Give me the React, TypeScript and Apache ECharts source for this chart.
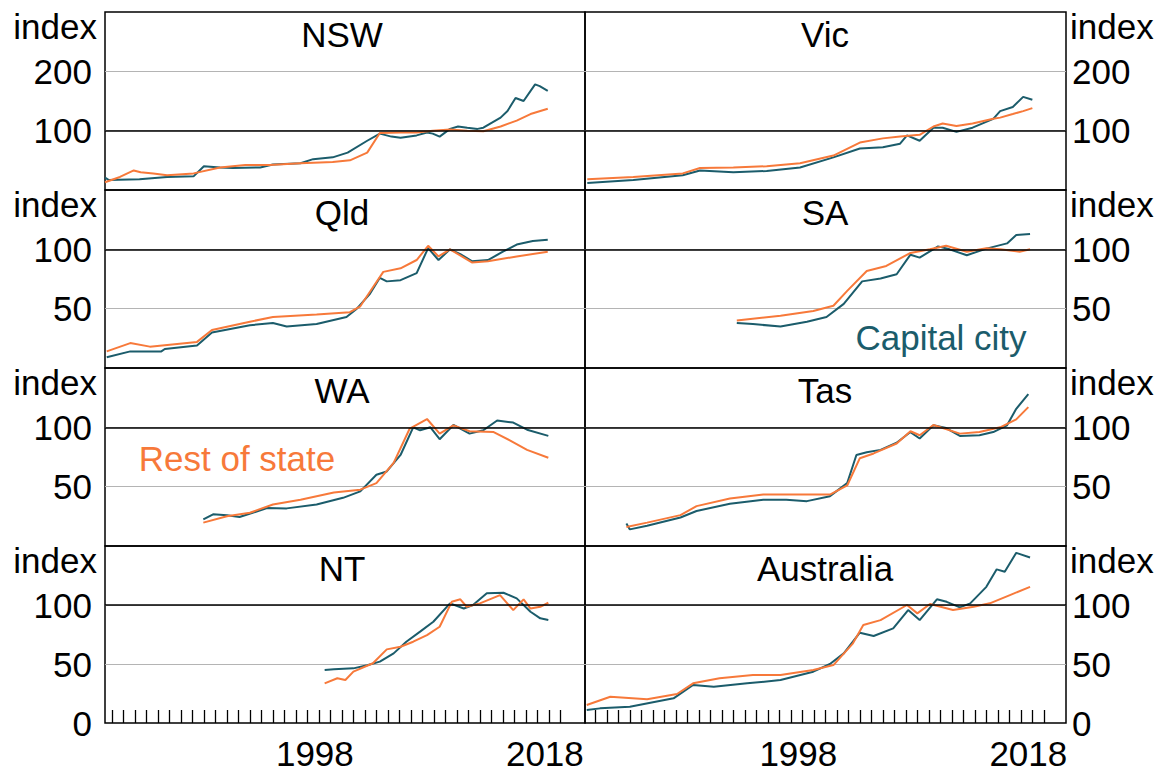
import React, { useEffect, useRef } from 'react';
import * as echarts from 'echarts';

const TEAL = '#1b5c6b';
const ORANGE = '#f7793a';
const FONT = '"Liberation Sans", Arial, sans-serif';
const FS = 35;

// [year, index] pairs
const nswCapital = [[1980.4, 21], [1980.7, 17], [1983.4, 18], [1985.8, 22], [1988.1, 23], [1989.0, 40], [1990.4, 38], [1991.5, 37], [1993.9, 38], [1995.0, 43], [1997.4, 45], [1998.5, 52], [2000.2, 55], [2001.5, 63], [2003.2, 83], [2004.3, 95], [2005.3, 90], [2006.1, 88], [2007.5, 92], [2008.4, 97], [2008.9, 95], [2009.5, 90], [2010.4, 103], [2011.1, 107], [2011.9, 105], [2012.8, 103], [2013.3, 105], [2013.9, 112], [2014.8, 122], [2015.4, 133], [2016.1, 155], [2016.8, 150], [2017.8, 178], [2018.2, 175], [2018.9, 167]];
const nswRest = [[1980.4, 13], [1981.7, 22], [1982.9, 33], [1983.5, 30], [1984.6, 28], [1985.8, 25], [1988.1, 28], [1990.4, 38], [1992.6, 42], [1994.7, 42], [1997.4, 45], [2000.2, 47], [2001.7, 50], [2003.2, 63], [2004.3, 96], [2006.1, 97], [2007.5, 97], [2008.9, 100], [2010.4, 102], [2011.9, 100], [2013.3, 99], [2014.8, 107], [2016.2, 117], [2017.4, 128], [2018.9, 137]];

const vicCapital = [[1980.3, 12], [1984.3, 17], [1988.6, 25], [1990.1, 33], [1993.0, 30], [1995.9, 32], [1998.8, 38], [2001.7, 55], [2004.0, 70], [2006.0, 72], [2007.5, 78], [2008.1, 92], [2009.2, 83], [2010.4, 105], [2011.2, 105], [2012.4, 98], [2013.8, 105], [2015.6, 120], [2016.2, 133], [2017.3, 140], [2018.2, 157], [2019.0, 152]];
const vicRest = [[1980.3, 18], [1984.3, 22], [1988.6, 28], [1990.1, 37], [1993.0, 38], [1995.9, 40], [1998.8, 45], [2001.7, 58], [2004.0, 80], [2006.0, 87], [2007.5, 90], [2009.2, 93], [2010.4, 107], [2011.2, 112], [2012.4, 108], [2013.8, 112], [2015.6, 120], [2016.2, 122], [2017.3, 128], [2018.2, 133], [2019.0, 138]];

const qldCapital = [[1980.55, 9], [1982.6, 14], [1985.3, 14], [1985.6, 16], [1988.4, 19], [1989.7, 30], [1993.0, 36], [1995.0, 38], [1996.2, 35], [1998.8, 37], [2001.4, 43], [2002.3, 50], [2003.4, 62], [2004.3, 76], [2004.9, 73], [2006.1, 74], [2007.5, 80], [2008.5, 101], [2009.4, 91], [2010.4, 100], [2011.3, 96], [2012.3, 90], [2013.7, 91], [2015.0, 98], [2016.2, 104], [2017.6, 107], [2018.9, 108]];
const qldRest = [[1980.55, 14], [1982.6, 21], [1984.3, 18], [1988.4, 22], [1989.7, 32], [1993.0, 39], [1995.0, 43], [1998.8, 45], [2001.7, 47], [2002.6, 52], [2003.7, 68], [2004.6, 81], [2006.1, 84], [2007.5, 91], [2008.5, 103], [2009.4, 94], [2010.4, 100], [2012.3, 89], [2013.7, 90], [2016.2, 94], [2018.9, 98]];

const saCapital = [[1993.3, 38], [1994.7, 37], [1997.1, 35], [1999.4, 39], [2001.1, 43], [2002.6, 54], [2004.2, 73], [2005.8, 75.5], [2007.2, 79], [2008.4, 95.5], [2009.2, 93], [2010.8, 102.5], [2011.8, 100], [2013.3, 95], [2015.0, 100.6], [2016.8, 105], [2017.6, 112], [2018.8, 113]];
const saRest = [[1993.3, 40], [1997.1, 44], [1999.95, 48], [2001.7, 52.5], [2002.9, 65], [2004.6, 81.7], [2006.3, 86], [2008.4, 97], [2010.1, 100], [2011.5, 103], [2013.3, 98], [2015.0, 101], [2016.2, 100], [2017.9, 98], [2018.8, 100]];

const waCapital = [[1988.95, 22.5], [1989.8, 26.7], [1991.0, 26], [1992.1, 24.4], [1994.5, 32], [1996.2, 31.7], [1998.8, 35], [2001.1, 40.6], [2002.6, 46], [2004.0, 60], [2004.9, 62.8], [2006.1, 76.7], [2007.2, 100], [2007.8, 97.5], [2008.7, 100], [2009.5, 90], [2010.7, 102], [2012.1, 94.7], [2013.3, 97.5], [2014.5, 105.8], [2015.9, 104], [2017.1, 98], [2018.95, 92.8]];
const waRest = [[1988.95, 19.7], [1991.0, 25], [1993.0, 28], [1995.0, 35], [1997.4, 39], [2000.3, 45], [2002.6, 47.5], [2004.0, 53], [2005.5, 70], [2006.9, 99], [2008.4, 107], [2009.5, 94.7], [2010.7, 101.7], [2012.1, 96.7], [2014.2, 96], [2015.6, 89], [2017.1, 81], [2018.95, 74.4]];

const tasCapital = [[1983.7, 19], [1984.0, 14], [1985.5, 17], [1988.4, 24], [1989.8, 29.5], [1992.7, 35.6], [1995.6, 39], [1997.6, 39], [1999.4, 37.8], [2001.4, 42], [2002.9, 53], [2003.7, 76.7], [2004.6, 79], [2005.8, 81], [2007.2, 87], [2008.4, 96], [2009.2, 90.6], [2010.4, 101.7], [2011.5, 99.4], [2012.7, 92.8], [2014.4, 93.3], [2015.6, 96], [2016.8, 101.7], [2017.6, 115.6], [2018.65, 128]];
const tasRest = [[1983.7, 16], [1985.5, 19.7], [1988.4, 26], [1989.8, 33.6], [1992.7, 40], [1995.6, 43.3], [1998.5, 43.3], [2001.4, 43.3], [2002.9, 51], [2004.0, 74], [2005.2, 78], [2007.2, 86.4], [2008.4, 96.7], [2009.2, 93.3], [2010.4, 102], [2012.7, 94.7], [2014.4, 96], [2016.2, 100], [2017.6, 106.7], [2018.65, 117]];

const ntCapital = [[1999.5, 44.9], [2000.3, 45.5], [2002.0, 46.3], [2003.2, 49], [2004.3, 52], [2005.5, 59], [2006.6, 68.9], [2007.8, 77.4], [2008.95, 85.8], [2010.4, 101.4], [2011.6, 97], [2012.4, 100], [2013.6, 109.9], [2015.05, 110.4], [2016.2, 105.6], [2017.4, 94.3], [2018.25, 88.7], [2018.95, 87.3]];
const ntRest = [[1999.5, 33.6], [2000.6, 37.9], [2001.3, 36.4], [2002.0, 43.5], [2003.7, 50.6], [2004.9, 62.4], [2006.1, 64.6], [2007.2, 68.9], [2008.4, 74.5], [2009.5, 81.6], [2010.55, 102.7], [2011.3, 104.8], [2011.85, 98.5], [2013.0, 101.4], [2014.75, 108.4], [2015.9, 95.7], [2016.8, 104.8], [2017.4, 97], [2018.25, 98.5], [2018.95, 101.9]];

const ausCapital = [[1980.25, 11], [1981.4, 12.4], [1984.0, 13.8], [1987.8, 20.9], [1989.5, 32.2], [1991.3, 30.7], [1994.2, 33.6], [1997.1, 36.4], [1999.95, 43.5], [2001.4, 50], [2002.6, 59], [2004.0, 76.5], [2005.2, 73.7], [2006.9, 80.2], [2008.2, 95.7], [2009.2, 87.2], [2010.7, 104.8], [2011.55, 102.7], [2012.7, 98], [2013.6, 101.4], [2015.0, 115.4], [2015.9, 130.2], [2016.6, 128.2], [2017.6, 144.2], [2018.8, 140.3]];
const ausRest = [[1980.25, 15.2], [1982.3, 22.3], [1985.5, 20.1], [1988.1, 24.6], [1989.5, 33.6], [1991.8, 37.9], [1994.7, 40.7], [1997.1, 40.7], [1999.95, 44.9], [2001.7, 49.1], [2003.4, 67.5], [2004.3, 83], [2005.8, 87.2], [2008.1, 100], [2009.0, 92.9], [2010.1, 100.8], [2012.1, 95.7], [2013.9, 98.5], [2015.3, 101.4], [2017.05, 108.4], [2018.8, 115.4]];

const tickYears = [1981, 1982, 1983, 1984, 1985, 1986, 1987, 1988, 1989, 1990, 1991, 1992, 1993, 1994, 1995, 1996, 1997, 1998, 1999, 2000, 2001, 2002, 2003, 2004, 2005, 2006, 2007, 2008, 2009, 2010, 2011, 2012, 2013, 2014, 2015, 2016, 2017, 2018, 2019, 2020];
const labelYears = [1998, 2018];
const rowMax = [300, 150, 150, 150];
const rowInterval = [100, 50, 50, 50];
const rowLabels = [[100, 200], [50, 100], [50, 100], [0, 50, 100]];

const panels = [
  { name: 'NSW', row: 0, col: 0, capital: nswCapital, rest: nswRest },
  { name: 'Vic', row: 0, col: 1, capital: vicCapital, rest: vicRest },
  { name: 'Qld', row: 1, col: 0, capital: qldCapital, rest: qldRest },
  { name: 'SA', row: 1, col: 1, capital: saCapital, rest: saRest },
  { name: 'WA', row: 2, col: 0, capital: waCapital, rest: waRest },
  { name: 'Tas', row: 2, col: 1, capital: tasCapital, rest: tasRest },
  { name: 'NT', row: 3, col: 0, capital: ntCapital, rest: ntRest },
  { name: 'Australia', row: 3, col: 1, capital: ausCapital, rest: ausRest },
];

// layout
const PX_PER_YEAR = 11.5;
const rowTop = [12, 190, 368, 546];
const rowHeight = [178, 178, 178, 177];
const colLeft = [105, 585];
const colWidth = [480, 481];
const colXMin = [1980.4, 1980.1];
const titleX = [342, 825];

export default function App() {
  const ref = useRef<HTMLDivElement>(null);
  useEffect(() => {
    if (!ref.current) return;
    const chart = echarts.init(ref.current, null, { renderer: 'svg' });
    const textStyle = { fontSize: FS, fontFamily: FONT, color: '#000' };

    const graphic: any[] = [];
    panels.forEach((p) => {
      graphic.push({
        type: 'text', x: titleX[p.col], y: rowTop[p.row] + 22.5,
        style: { text: p.name, fontSize: FS, fontFamily: FONT, fill: '#000', align: 'center', verticalAlign: 'middle' },
      });
      graphic.push({
        type: 'text', x: p.col === 0 ? 97 : 1070, y: rowTop[p.row] + 14,
        style: { text: 'index', fontSize: FS, fontFamily: FONT, fill: '#000', align: p.col === 0 ? 'right' : 'left', verticalAlign: 'middle' },
      });
    });
    graphic.push({
      type: 'text', x: 941, y: 337,
      style: { text: 'Capital city', fontSize: FS, fontFamily: FONT, fill: TEAL, align: 'center', verticalAlign: 'middle' },
    });
    graphic.push({
      type: 'text', x: 237, y: 458,
      style: { text: 'Rest of state', fontSize: FS, fontFamily: FONT, fill: ORANGE, align: 'center', verticalAlign: 'middle' },
    });

    const option: any = {
      animation: false,
      backgroundColor: '#fff',
      grid: panels.map((p) => ({
        left: colLeft[p.col], top: rowTop[p.row], width: colWidth[p.col], height: rowHeight[p.row],
        show: true, borderColor: '#000', borderWidth: 1.5, backgroundColor: 'rgba(0,0,0,0)', containLabel: false,
      })),
      xAxis: panels.map((p, i) => ({
        gridIndex: i, type: 'value',
        min: colXMin[p.col], max: colXMin[p.col] + colWidth[p.col] / PX_PER_YEAR,
        axisLine: { show: false }, splitLine: { show: false },
        axisTick: p.row === 3
          ? { show: true, inside: true, length: 13, customValues: tickYears, lineStyle: { color: '#000', width: 1.3 } }
          : { show: false },
        axisLabel: p.row === 3
          ? { show: true, ...textStyle, margin: 13, customValues: labelYears.map((y) => y + 0.65), formatter: (v: number) => String(Math.floor(v)) }
          : { show: false },
      })),
      yAxis: panels.map((p, i) => ({
        gridIndex: i, type: 'value', min: 0, max: rowMax[p.row], interval: rowInterval[p.row],
        position: p.col === 0 ? 'left' : 'right',
        axisLine: { show: false }, axisTick: { show: false },
        splitLine: { show: true, showMinLine: false, showMaxLine: false, lineStyle: { color: '#b4b4b4', width: 1.2 } },
        axisLabel: {
          ...textStyle, margin: p.col === 0 ? 13 : 6,
          formatter: (v: number) => (rowLabels[p.row].includes(v) ? String(v) : ''),
        },
      })),
      series: panels.flatMap((p, i) => [
        {
          type: 'line', xAxisIndex: i, yAxisIndex: i, data: p.capital, showSymbol: false, silent: true,
          lineStyle: { color: TEAL, width: 2 }, itemStyle: { color: TEAL },
          markLine: {
            silent: true, symbol: ['none', 'none'], label: { show: false },
            lineStyle: { color: '#000', width: 1.5, type: 'solid' },
            data: [{ yAxis: 100 }],
          },
        },
        {
          type: 'line', xAxisIndex: i, yAxisIndex: i, data: p.rest, showSymbol: false, silent: true,
          lineStyle: { color: ORANGE, width: 2 }, itemStyle: { color: ORANGE },
        },
      ]),
      graphic,
    };
    chart.setOption(option);
    return () => chart.dispose();
  }, []);
  return <div ref={ref} style={{ position: 'absolute', left: 0, top: 0, width: 1158, height: 775, background: '#fff' }} />;
}
